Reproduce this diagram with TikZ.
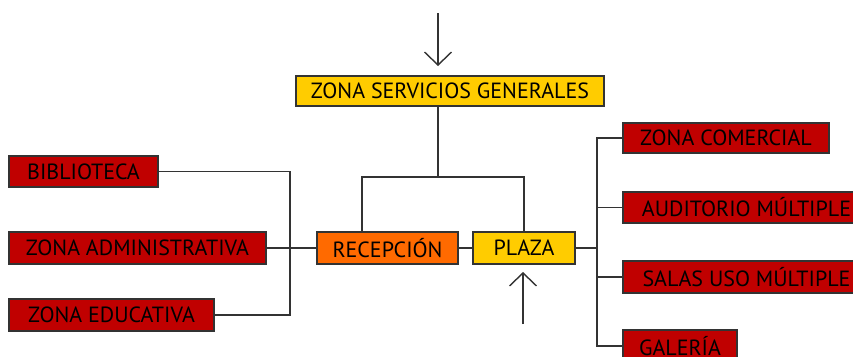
\documentclass[tikz,border=0pt]{standalone}
\usepackage{fontspec}
\setmainfont{PT Sans}
\usetikzlibrary{arrows.meta}
\definecolor{rojo}{HTML}{C00000}
\definecolor{naranja}{HTML}{FF6A00}
\definecolor{amarillo}{HTML}{FFCC00}
\definecolor{linea}{HTML}{333333}
\tikzset{
  caja/.style={draw=linea, line width=1.2pt, inner sep=0pt, text=black,
    font=\fontsize{22}{24}\selectfont},
  zona/.style={caja, fill=rojo},
  nucleo/.style={caja, fill=amarillo},
  acceso/.style={caja, fill=naranja},
  enlace/.style={draw=linea, line width=1.4pt},
  flecha/.style={enlace, -{Straight Barb[length=13pt,width=27pt,line width=1.4pt]}}
}
\begin{document}
\begin{tikzpicture}[x=1pt,y=-1pt]
\clip (0,0) rectangle (853,356);
\fill[white] (0,0) rectangle (853,356);
% centro
\node[nucleo, minimum width=308pt, minimum height=30pt] (zsg) at (450,91) {ZONA SERVICIOS GENERALES};
\node[acceso, minimum width=141pt, minimum height=32pt] (rec) at (387.5,248) {RECEPCIÓN};
\node[nucleo, minimum width=102pt, minimum height=32pt] (pla) at (524,248) {PLAZA};
% izquierda
\node[zona, minimum width=149pt, minimum height=31pt] (bib) at (83.5,171.5) {BIBLIOTECA};
\node[zona, minimum width=257pt, minimum height=32pt] (adm) at (137.5,248) {ZONA ADMINISTRATIVA};
\node[zona, minimum width=205pt, minimum height=32pt] (edu) at (111.5,315) {ZONA EDUCATIVA};
% derecha
\node[zona, minimum width=206pt, minimum height=30pt] (com) at (726,138) {ZONA COMERCIAL};
\node[zona, minimum width=247pt, minimum height=31pt] (aud) at (746.5,207.5) {AUDITORIO MÚLTIPLE};
\node[zona, minimum width=247pt, minimum height=32pt] (sal) at (746.5,277) {SALAS USO MÚLTIPLE};
\node[zona, minimum width=114pt, minimum height=32pt] (gal) at (680,346) {GALERÍA};
% puntos de union
\coordinate (izq) at (290,248);
\coordinate (der) at (597,248);
\coordinate (rama) at (438,177);
\coordinate (ent1) at (438,13);
\coordinate (lleg1) at (438,66);
\coordinate (ent2) at (523,324);
\coordinate (lleg2) at (523,272);
% conexiones
\draw[enlace] (rama |- zsg.south) -- (rama);
\draw[enlace] (rec.north -| 362,0) |- (pla.north |- rama) -- (pla.north);
\draw[enlace] (bib.east) -| (izq) |- (edu.east);
\draw[enlace] (adm.east) -- (rec.west);
\draw[enlace] (rec.east) -- (pla.west);
\draw[enlace] (pla.east) -- (der);
\draw[enlace] (com.west) -| (der) |- (gal.west);
\draw[enlace] (aud.west) -- (der |- aud.west);
\draw[enlace] (sal.west) -- (der |- sal.west);
% accesos
\draw[flecha] (ent1) -- (lleg1);
\draw[flecha] (ent2) -- (lleg2);
\end{tikzpicture}
\end{document}
